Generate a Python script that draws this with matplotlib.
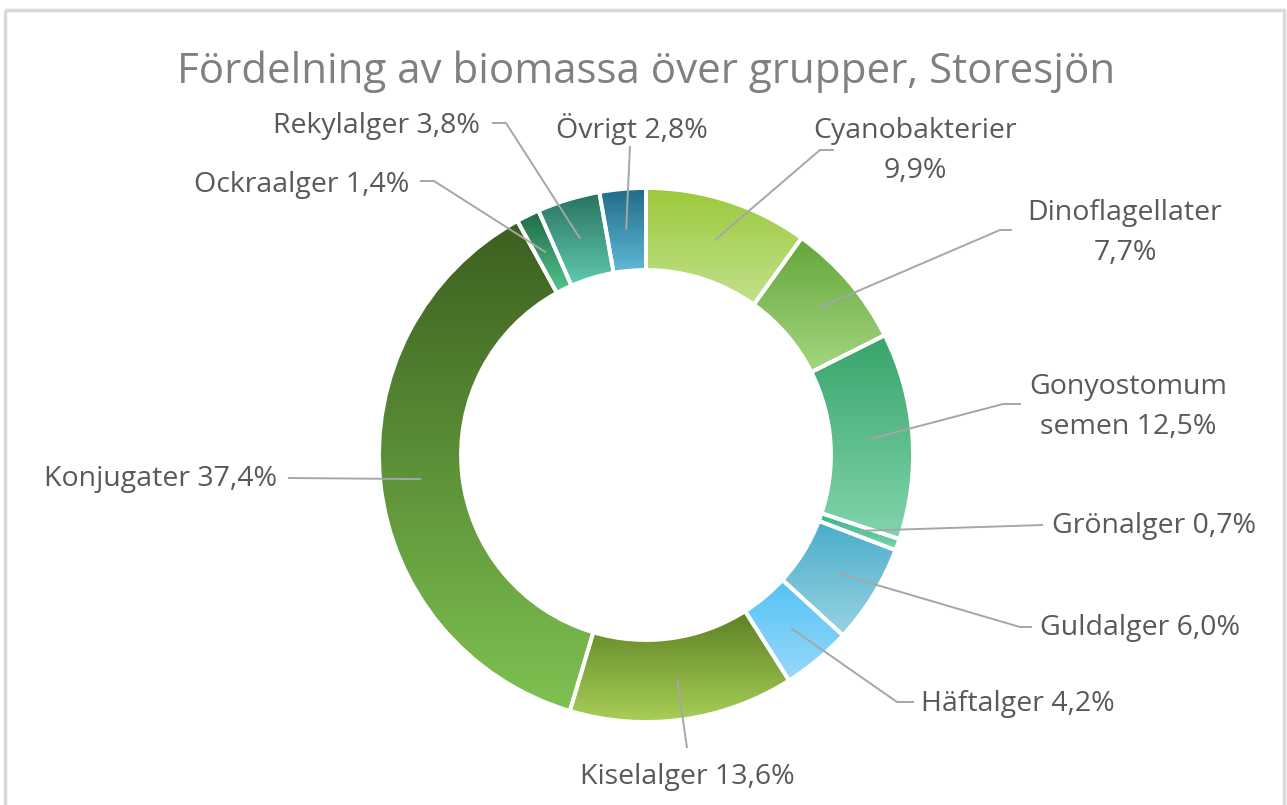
import numpy as np
import matplotlib.pyplot as plt
from matplotlib.patches import Wedge, Rectangle
from matplotlib.colors import LinearSegmentedColormap

plt.rcParams['font.family'] = ['Open Sans', 'DejaVu Sans']

# data, clockwise from 12 o'clock
groups = ["Cyanobakterier", "Dinoflagellater", "Gonyostomum semen", "Grönalger",
          "Guldalger", "Häftalger", "Kiselalger", "Konjugater", "Ockraalger",
          "Rekylalger", "Övrigt"]
shares = [9.9, 7.7, 12.5, 0.7, 6.0, 4.2, 13.6, 37.4, 1.4, 3.8, 2.8]

top_colors = ["#9bc93a", "#62a53a", "#38a46b", "#35b386", "#48adc9", "#55c2f5",
              "#5c8024", "#3b5f1f", "#1e6a44", "#28725f", "#216b87"]
bottom_colors = ["#c2e18e", "#a5d780", "#82d5ab", "#78d6b0", "#98d2e3", "#97d9fa",
                 "#a8cf57", "#7ec251", "#55c48d", "#62cab0", "#60bad6"]

# label layout (pixels): text position, leader points near text
label_names = ["Cyanobakterier\n", "Dinoflagellater\n", "Gonyostomum\nsemen ", "Grönalger ",
               "Guldalger ", "Häftalger ", "Kiselalger ", "Konjugater ", "Ockraalger ",
               "Rekylalger ", "Övrigt "]
label_pos = [(915, 151), (1125, 233), (1128, 407), (1154, 526), (1140, 628),
             (1018, 704), (687, 777), (160, 479), (302, 185), (376, 126), (632, 129)]
leader_pts = [[(820, 150), (834, 150)], [(1000, 230), (1012, 230)],
              [(1003, 404), (1021, 404)], [(1043, 525)], [(1020, 627), (1032, 627)],
              [(897, 702), (914, 702)], [(687, 748)], [(288, 478)],
              [(434, 181), (420, 181)], [(506, 123), (492, 123)], [(630, 146)]]

W, H = 1287, 805
cx, cy = 646, 455
r_out, r_in = 267, 185

fig = plt.figure(figsize=(W / 100, H / 100), dpi=100)
ax = fig.add_axes([0, 0, 1, 1])
ax.axis('off')

ax.add_patch(Rectangle((5, 10), 1279, 820, fill=False, edgecolor='#d9d9d9', lw=2.5))

fracs = np.array(shares) / sum(shares)
starts = np.concatenate([[0], np.cumsum(fracs)[:-1]])
grad = np.linspace(0, 1, 256).reshape(-1, 1)

for i, name in enumerate(groups):
    t1 = -90 + 360 * starts[i]
    t2 = -90 + 360 * (starts[i] + fracs[i])
    w = Wedge((cx, cy), r_out, t1, t2, width=r_out - r_in,
              facecolor='none', edgecolor='white', lw=2.8, zorder=3)
    ax.add_patch(w)
    # vertical gradient over the wedge's own bounding box
    ang = np.radians(np.linspace(t1, t2, 100))
    xs = np.concatenate([cx + r_out * np.cos(ang), cx + r_in * np.cos(ang)])
    ys = np.concatenate([cy + r_out * np.sin(ang), cy + r_in * np.sin(ang)])
    cmap = LinearSegmentedColormap.from_list(name, [top_colors[i], bottom_colors[i]])
    im = ax.imshow(grad, cmap=cmap, aspect='auto', origin='upper',
                   extent=(xs.min(), xs.max(), ys.max(), ys.min()), zorder=2)
    im.set_clip_path(w)

    mid = np.radians((t1 + t2) / 2)
    rm = (r_out + r_in) / 2
    anchor = (cx + rm * np.cos(mid), cy + rm * np.sin(mid))
    pts = [anchor] + leader_pts[i]
    ax.plot([p[0] for p in pts], [p[1] for p in pts], color='#a6a6a6',
            lw=1.4, zorder=4, solid_capstyle='butt')

    txt = label_names[i] + f"{shares[i]:.1f}%".replace('.', ',')
    x, y = label_pos[i]
    ax.text(x, y, txt, ha='center', va='center', fontsize=20.5, color='#595959',
            linespacing=1.55, zorder=5)

ax.text(646, 72, "Fördelning av biomassa över grupper, Storesjön", ha='center',
        va='center', fontsize=30.3, color='#808080')

ax.set_xlim(0, W)
ax.set_ylim(H, 0)
fig.savefig('out.png', dpi=100)
